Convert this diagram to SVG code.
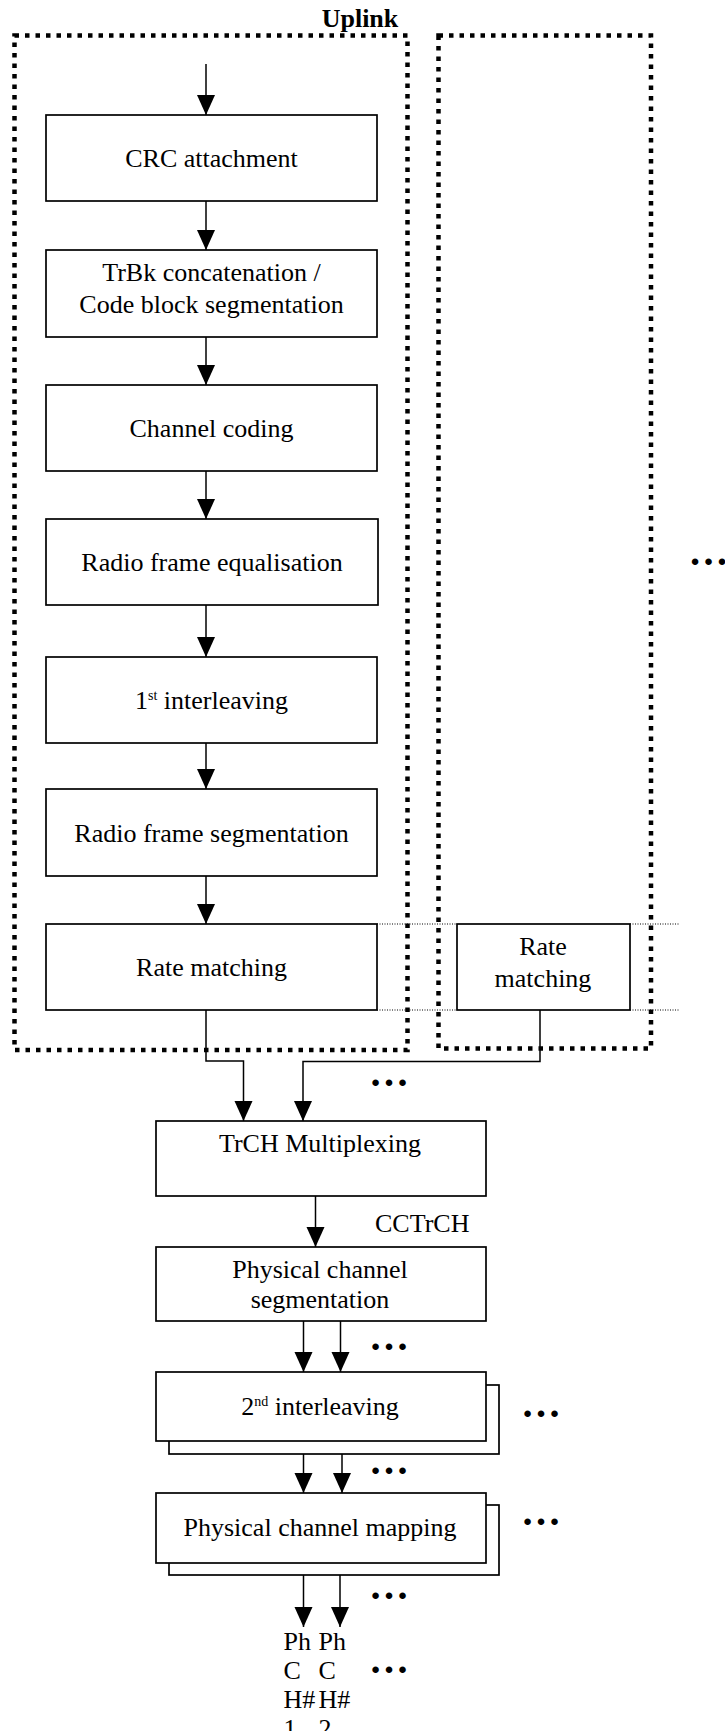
<svg xmlns="http://www.w3.org/2000/svg" width="725" height="1731" viewBox="0 0 725 1731">
<style>
  text { font-family: "Liberation Serif", "Times New Roman", serif; font-size: 26px; fill: #000; }
  .c { text-anchor: middle; }
  .b { font-weight: bold; }
  .box { fill: #fff; stroke: #000; stroke-width: 1.7; }
  .grp { fill: none; stroke: #000; stroke-width: 4.5; stroke-dasharray: 4.5 6; }
  .thin { fill: none; stroke: #000; stroke-width: 1; stroke-dasharray: 1 1.5; }
  .con { fill: none; stroke: #000; stroke-width: 1.5; }
  .dots { font-weight: bold; font-size: 40px; text-anchor: middle; }
</style>
<defs>
  <marker id="ah" markerUnits="userSpaceOnUse" viewBox="0 0 20 20" refX="20" refY="10" markerWidth="20" markerHeight="20" orient="auto">
    <path d="M0,1 L20,10 L0,19 z" fill="#000"/>
  </marker>
</defs>

<text id="title" class="c b" x="360" y="27">Uplink</text>

<g id="trch-group-1"><rect class="grp" x="14.5" y="35.5" width="393" height="1014.5"/></g>
<g id="trch-group-2"><rect class="grp" x="438.5" y="35.5" width="212.5" height="1013"/></g>

<g id="band">
  <line class="thin" x1="377" y1="924" x2="457" y2="924"/>
  <line class="thin" x1="630" y1="924" x2="680" y2="924"/>
  <line class="thin" x1="377" y1="1010" x2="457" y2="1010"/>
  <line class="thin" x1="630" y1="1010" x2="680" y2="1010"/>
</g>

<g id="connectors">
  <line class="con" x1="206" y1="64" x2="206" y2="115" marker-end="url(#ah)"/>
  <line class="con" x1="206" y1="201" x2="206" y2="250" marker-end="url(#ah)"/>
  <line class="con" x1="206" y1="337" x2="206" y2="385" marker-end="url(#ah)"/>
  <line class="con" x1="206" y1="471" x2="206" y2="519" marker-end="url(#ah)"/>
  <line class="con" x1="206" y1="605" x2="206" y2="657" marker-end="url(#ah)"/>
  <line class="con" x1="206" y1="743" x2="206" y2="789" marker-end="url(#ah)"/>
  <line class="con" x1="206" y1="876" x2="206" y2="924" marker-end="url(#ah)"/>
  <path class="con" d="M206,1010 V1061 H243.5 V1121" marker-end="url(#ah)"/>
  <path class="con" d="M540,1010 V1061.5 H303 V1121" marker-end="url(#ah)"/>
  <line class="con" x1="315.5" y1="1196" x2="315.5" y2="1247" marker-end="url(#ah)"/>
  <line class="con" x1="303.5" y1="1321" x2="303.5" y2="1372" marker-end="url(#ah)"/>
  <line class="con" x1="340.5" y1="1321" x2="340.5" y2="1372" marker-end="url(#ah)"/>
  <line class="con" x1="303.5" y1="1441" x2="303.5" y2="1493" marker-end="url(#ah)"/>
  <line class="con" x1="342" y1="1454" x2="342" y2="1493" marker-end="url(#ah)"/>
  <line class="con" x1="303.5" y1="1563" x2="303.5" y2="1627" marker-end="url(#ah)"/>
  <line class="con" x1="340" y1="1575" x2="340" y2="1627" marker-end="url(#ah)"/>
</g>

<g id="crc">
  <rect class="box" x="46" y="115" width="331" height="86"/>
  <text class="c" x="211.5" y="167">CRC attachment</text>
</g>
<g id="trbk">
  <rect class="box" x="46" y="250" width="331" height="87"/>
  <text class="c" x="211.5" y="281">TrBk concatenation /</text>
  <text class="c" x="211.5" y="313">Code block segmentation</text>
</g>
<g id="coding">
  <rect class="box" x="46" y="385" width="331" height="86"/>
  <text class="c" x="211.5" y="437">Channel coding</text>
</g>
<g id="equal">
  <rect class="box" x="46" y="519" width="332" height="86"/>
  <text class="c" x="212" y="571">Radio frame equalisation</text>
</g>
<g id="inter1">
  <rect class="box" x="46" y="657" width="331" height="86"/>
  <text class="c" x="211.5" y="709">1<tspan font-size="14" dy="-9">st</tspan><tspan dy="9"> interleaving</tspan></text>
</g>
<g id="segm">
  <rect class="box" x="46" y="789" width="331" height="87"/>
  <text class="c" x="211.5" y="842">Radio frame segmentation</text>
</g>
<g id="rm1">
  <rect class="box" x="46" y="924" width="331" height="86"/>
  <text class="c" x="211.5" y="976">Rate matching</text>
</g>
<g id="rm2">
  <rect class="box" x="457" y="924" width="173" height="86"/>
  <text class="c" x="543" y="955">Rate</text>
  <text class="c" x="543" y="987">matching</text>
</g>
<g id="mux">
  <rect class="box" x="156" y="1121" width="330" height="75"/>
  <text class="c" x="320" y="1152">TrCH Multiplexing</text>
</g>
<text id="cctrch" x="375" y="1232">CCTrCH</text>
<g id="physseg">
  <rect class="box" x="156" y="1247" width="330" height="74"/>
  <text class="c" x="320" y="1278">Physical channel</text>
  <text class="c" x="320" y="1308">segmentation</text>
</g>
<g id="inter2">
  <rect class="box" x="169" y="1385" width="330" height="69"/>
  <rect class="box" x="156" y="1372" width="330" height="69"/>
  <text class="c" x="320" y="1415">2<tspan font-size="14" dy="-9">nd</tspan><tspan dy="9"> interleaving</tspan></text>
</g>
<g id="mapping">
  <rect class="box" x="169" y="1505" width="330" height="70"/>
  <rect class="box" x="156" y="1493" width="330" height="70"/>
  <text class="c" x="320" y="1536">Physical channel mapping</text>
</g>
<g id="phch1">
  <text x="283.5" y="1650">Ph</text>
  <text x="283.5" y="1679">C</text>
  <text x="283.5" y="1708">H#</text>
  <text x="283.5" y="1737">1</text>
</g>
<g id="phch2">
  <text x="318.5" y="1650">Ph</text>
  <text x="318.5" y="1679">C</text>
  <text x="318.5" y="1708">H#</text>
  <text x="318.5" y="1737">2</text>
</g>

<g id="ellipses">
  <text class="dots" x="708.5" y="565">…</text>
  <text class="dots" x="389" y="1085.5">…</text>
  <text class="dots" x="389" y="1350">…</text>
  <text class="dots" x="541" y="1416.5">…</text>
  <text class="dots" x="389" y="1474">…</text>
  <text class="dots" x="541" y="1525">…</text>
  <text class="dots" x="389" y="1599">…</text>
  <text class="dots" x="389" y="1673">…</text>
</g>
</svg>
